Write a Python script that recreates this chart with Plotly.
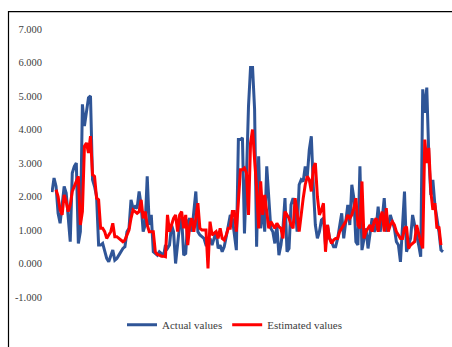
import plotly.graph_objects as go

# Observation index shared by both series
period = list(range(194))

actual_values = [
    2.13, 2.55, 2.3, 1.5, 1.2, 1.7, 2.3, 2.1, 1.45, 0.65,
    2.7, 2.9, 3.0, 0.6, 0.95, 4.75, 4.1, 4.6, 4.95, 5.0,
    2.5, 2.3, 2.0, 0.55, 0.55, 0.6, 0.35, 0.15, 0.05, 0.2,
    0.4, 0.1, 0.15, 0.25, 0.35, 0.45, 0.5, 0.95, 1.05, 1.9,
    1.65, 1.7, 1.65, 2.15, 1.75, 0.95, 1.15, 2.6, 1.15, 1.45,
    0.35, 0.3, 0.25, 0.35, 0.3, 0.2, 0.55, 0.45, 0.55, 1.15,
    0.95, 0.0, 0.6, 1.15, 1.35, 0.25, 0.3, 1.25, 1.35, 0.95,
    1.55, 2.15, 0.95, 0.85, 0.8, 0.75, 0.55, 0.55, 0.75, 0.55,
    0.75, 0.95, 0.45, 0.55, 0.35, 0.5, 0.8, 1.15, 1.45, 1.35,
    0.8, 0.4, 3.7, 3.7, 3.75, 0.9, 2.6, 4.7, 5.85, 5.85,
    4.6, 0.5, 3.2, 1.05, 1.75, 0.95, 2.9, 1.9, 1.05, 0.95,
    0.6, 1.15, 0.25, 0.55, 1.05, 1.95, 0.35, 0.45, 1.75, 1.95,
    1.75, 0.95, 2.35, 2.5, 2.45, 2.9, 2.6, 3.4, 3.8, 2.3,
    1.15, 0.75, 0.95, 1.3, 1.35, 0.55, 1.15, 0.75, 0.65, 0.5,
    0.5, 0.75, 1.15, 1.5, 0.75, 1.35, 1.75, 1.15, 2.35, 1.95,
    0.65, 0.55, 2.9, 0.4, 0.75, 1.05, 0.45, 0.95, 1.35, 0.95,
    1.05, 1.7, 0.95, 1.35, 1.95, 0.95, 1.15, 1.45, 1.25, 1.05,
    0.65, 0.55, 0.05, 0.95, 2.15, 0.35, 0.55, 0.75, 1.45, 1.15,
    0.95, 0.55, 0.2, 5.2, 4.5, 5.25, 3.2, 2.05, 2.5, 1.75,
    1.35, 0.95, 0.4, 0.35,
]

# Model output has no value for the first two observations
estimated_values = [
    None, None, 2.2, 2.0, 1.6, 1.45, 2.05, 1.85, 1.55, 1.75,
    2.15, 2.3, 2.5, 2.6, 1.15, 1.55, 3.5, 3.6, 3.3, 3.8,
    2.65, 2.6, 1.95, 1.9, 1.05, 1.05, 0.95, 0.75, 0.85, 0.95,
    1.2, 0.8, 0.8, 0.75, 0.7, 0.65, 0.7, 0.85, 1.0, 1.35,
    1.6, 1.55, 1.5, 1.55, 1.9, 1.35, 1.55, 1.15, 0.95, 0.95,
    0.95, 0.35, 0.27, 0.25, 0.22, 0.22, 0.2, 1.45, 0.95, 1.15,
    1.35, 1.45, 0.95, 1.45, 1.55, 1.05, 1.45, 0.55, 1.15, 1.35,
    0.95, 1.35, 1.8, 1.05, 1.0, 1.0, 1.0, -0.15, 1.25, 0.85,
    0.9, 0.95, 0.75, 1.05, 0.75, 0.7, 0.85, 1.05, 1.05, 1.55,
    1.55, 0.95, 1.85, 2.8, 2.8, 2.85, 2.7, 1.45, 3.6, 4.0,
    3.1, 2.25, 1.05, 2.45, 1.45, 2.05, 1.55, 1.05, 1.25, 1.15,
    1.05, 1.2, 1.1, 1.05, 0.75, 1.55, 1.45, 1.35, 1.15, 1.05,
    1.95, 1.55, 0.95, 1.55, 1.95, 2.35, 2.6, 2.5, 2.15, 2.85,
    3.0, 2.0, 1.45, 1.6, 1.8, 0.35, 1.15, 0.75, 0.6, 0.7,
    0.75, 0.75, 0.95, 1.05, 1.15, 1.25, 1.45, 1.35, 1.45, 1.65,
    1.95, 1.15, 1.05, 2.45, 0.75, 0.95, 1.05, 1.15, 0.95, 1.25,
    1.35, 0.95, 1.35, 1.55, 0.95, 1.65, 0.95, 1.15, 1.25, 1.15,
    0.95, 0.85, 0.75, 0.75, 1.05, 1.1, 0.45, 0.55, 0.6, 0.65,
    1.15, 0.85, 0.65, 0.45, 3.7, 3.0, 3.45, 2.15, 1.6, 1.8,
    1.05, 1.1, 0.55, None,
]

series_names = ["Actual values", "Estimated values"]
y_ticks = [-1, 0, 1, 2, 3, 4, 5, 6, 7]
y_tick_labels = [f"{v:.3f}" for v in y_ticks]

W, H = 452, 347
M_L, M_R, M_T, M_B = 51, 8, 29, 48
PLOT_W = W - M_L - M_R
PLOT_H = H - M_T - M_B


def px_to_paper_x(px):
    return (px - M_L) / PLOT_W


def px_to_paper_y(py):
    return (H - M_B - py) / PLOT_H


SERIF = "Liberation Serif, Times New Roman, serif"
TEXT = "#404040"

fig = go.Figure()
fig.add_trace(go.Scatter(
    x=period, y=actual_values, mode="lines", name=series_names[0],
    line=dict(color="#2F5597", width=3),
))
fig.add_trace(go.Scatter(
    x=period, y=estimated_values, mode="lines", name=series_names[1],
    line=dict(color="#FF0000", width=3),
))

fig.update_layout(
    width=W, height=H,
    margin=dict(l=M_L, r=M_R, t=M_T, b=M_B, pad=0),
    paper_bgcolor="white", plot_bgcolor="white",
    showlegend=True,
    legend=dict(
        orientation="h",
        x=px_to_paper_x(122), xanchor="left",
        y=px_to_paper_y(327), yanchor="middle",
        font=dict(family=SERIF, size=11, color=TEXT),
        bgcolor="rgba(0,0,0,0)",
        tracegroupgap=0,
        itemwidth=30,
    ),
    xaxis=dict(
        range=[-0.5, len(period) - 0.5],
        showgrid=False, zeroline=False, showline=False,
        showticklabels=False, ticks="",
    ),
    yaxis=dict(
        range=[-1, 7],
        tickvals=y_ticks, ticktext=y_tick_labels,
        showgrid=False, zeroline=False, showline=False,
        ticks="", ticklabelstandoff=8,
        tickfont=dict(family=SERIF, size=10.5, color=TEXT),
    ),
    shapes=[
        dict(
            type="rect", xref="paper", yref="paper",
            x0=px_to_paper_x(8.5), x1=px_to_paper_x(W + 10),
            y0=px_to_paper_y(H + 10), y1=px_to_paper_y(11.5),
            line=dict(color="#000000", width=1.2),
            fillcolor="rgba(0,0,0,0)", layer="below",
        )
    ],
)

fig.write_html("out.html")
